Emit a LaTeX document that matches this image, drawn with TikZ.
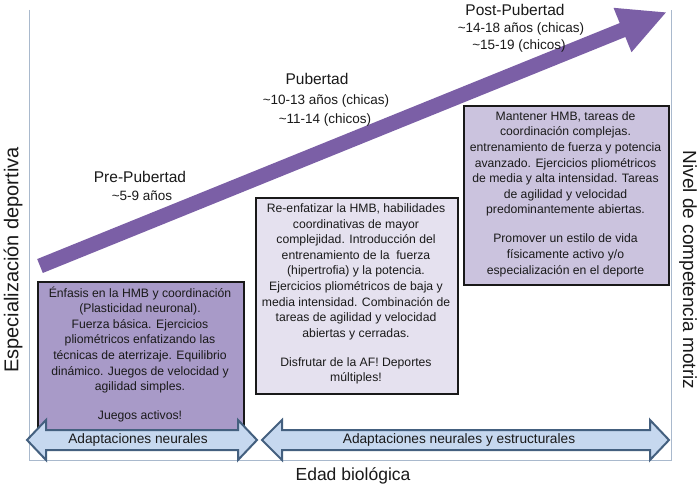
\documentclass[tikz,border=0pt]{standalone}
\usepackage{fontspec}
\setmainfont{Liberation Sans}
\usetikzlibrary{arrows.meta}
\definecolor{arrowpurple}{HTML}{7B5FA6}
\definecolor{boxA}{HTML}{A89AC8}
\definecolor{boxB}{HTML}{E5E1EF}
\definecolor{boxC}{HTML}{CBC3DE}
\definecolor{framecol}{HTML}{A9B9CD}
\definecolor{bafill}{HTML}{C6D8EF}
\definecolor{badraw}{HTML}{44607F}
\definecolor{txtcol}{HTML}{1A1A1A}
\begin{document}
\begin{tikzpicture}[x=1pt,y=-1pt,
  phasebox/.style={draw=black!90, line width=2.2pt, anchor=north west, inner sep=0pt},
  boxtxt/.style={align=center, inner sep=0pt, text=txtcol, font=\fontsize{12.2}{15.6}\selectfont},
  stage/.style={inner sep=0pt, text=txtcol, font=\fontsize{15.5}{18}\selectfont},
  agetxt/.style={inner sep=0pt, text=txtcol, font=\fontsize{13.5}{16}\selectfont},
  axislab/.style={inner sep=0pt, text=txtcol, font=\fontsize{20}{24}\selectfont},
  bigarrow/.style={arrowpurple, line width=15pt, -{Triangle[length=48pt,width=44pt]}},
  bandarrow/.style={fill=bafill, draw=badraw, line width=2pt},
  bandtxt/.style={inner sep=0pt, text=txtcol, font=\fontsize{13.7}{16}\selectfont}
]
\useasboundingbox (0,0) rectangle (700,486);
\fill[white] (0,0) rectangle (700,486);
% frame
\draw[framecol, line width=0.8pt] (29,10) -- (29,460) -- (671,460) -- (671,10);
% big arrow
\coordinate (tail) at (40,266);
\coordinate (tip) at (667,12);
\draw[bigarrow] (tail) -- (tip);
% boxes
\node[phasebox, fill=boxA, minimum width=206pt, minimum height=165pt] (b1) at (37,281) {};
\node[phasebox, fill=boxB, minimum width=202pt, minimum height=196pt] (b2) at (255,197) {};
\node[phasebox, fill=boxC, minimum width=205pt, minimum height=179pt] (b3) at (463,105) {};
\node[boxtxt] (t1) at (140,354.5) {Énfasis en la HMB y coordinación\\(Plasticidad neuronal).\\Fuerza básica. Ejercicios\\pliométricos enfatizando las\\técnicas de aterrizaje. Equilibrio\\dinámico. Juegos de velocidad y\\agilidad simples.\\[13.5pt]Juegos activos!};
\node[boxtxt] (t2) at (356,294) {Re-enfatizar la HMB, habilidades\\coordinativas de mayor\\complejidad. Introducción del\\entrenamiento de la\ \ fuerza\\(hipertrofia) y la potencia.\\Ejercicios pliométricos de baja y\\media intensidad. Combinación de\\tareas de agilidad y velocidad\\abiertas y cerradas.\\[13.5pt]Disfrutar de la AF! Deportes\\múltiples!};
\node[boxtxt] (t3) at (565.5,194) {Mantener HMB, tareas de\\coordinación complejas.\\entrenamiento de fuerza y potencia\\avanzado. Ejercicios pliométricos\\de media y alta intensidad. Tareas\\de agilidad y velocidad\\predominantemente abiertas.\\[13.5pt]Promover un estilo de vida\\físicamente activo y/o\\especialización en el deporte};
% bottom band arrows
\draw[bandarrow] (27,440) -- (46,420) -- (46,430) -- (238,430) -- (238,420) -- (257,440) -- (238,460) -- (238,450) -- (46,450) -- (46,460) -- cycle;
\draw[bandarrow] (262,440) -- (282,420) -- (282,430) -- (650,430) -- (650,420) -- (669,440) -- (650,460) -- (650,450) -- (282,450) -- (282,460) -- cycle;
\node[bandtxt] (n1) at (138,440) {Adaptaciones neurales};
\node[bandtxt] (n2) at (459,440) {Adaptaciones neurales y estructurales};
% stage labels
\node[stage] (pre) at (140,177) {Pre-Pubertad};
\node[agetxt] (preage) at (142,196) {\textasciitilde5-9 años};
\node[stage] (pub) at (317,79) {Pubertad};
\node[agetxt] (pubf) at (326,101) {\textasciitilde10-13 años (chicas)};
\node[agetxt] (pubm) at (325,120) {\textasciitilde11-14 (chicos)};
\node[stage] (post) at (515,10) {Post-Pubertad};
\node[agetxt] (postf) at (521,29) {\textasciitilde14-18 años (chicas)};
\node[agetxt] (postm) at (519,46) {\textasciitilde15-19 (chicos)};
% axis labels
\node[axislab, rotate=90] (ylab) at (13,260) {Especialización deportiva};
\node[axislab, rotate=-90, font=\fontsize{19}{23}\selectfont] (ylab2) at (688,270) {Nivel de competencia motriz};
\node[inner sep=0pt, text=txtcol, font=\fontsize{17.5}{20}\selectfont] (xlab) at (353,476) {Edad biológica};
\end{tikzpicture}
\end{document}
